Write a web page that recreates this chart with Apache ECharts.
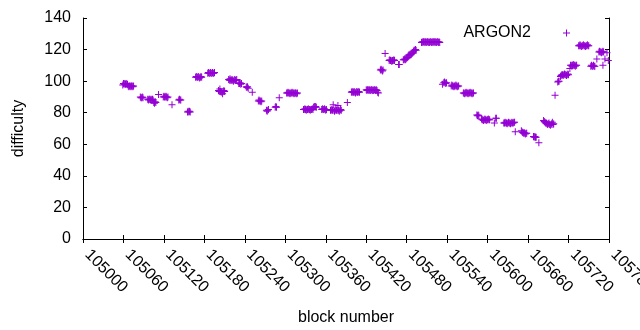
<!DOCTYPE html>
<html>
<head>
<meta charset="utf-8">
<script src="https://cdn.jsdelivr.net/npm/echarts@6/dist/echarts.min.js"></script>
<style>
  html, body { margin: 0; padding: 0; background: #fff; }
  #main { width: 640px; height: 330px; }
</style>
</head>
<body>
<div id="main"></div>
<script type="text/javascript">
// block number offsets (from 105000) and difficulty
var baseBlock = 105000;
var blockOffset = [
  59,60,61,62,63,64,65,66,67,68,69,70,71,72,73,74,75,
  85,86,87,88,89,
  96,97,98,99,100,101,102,103,104,105,106,107,108,
  112,
  119,120,121,122,123,124,125,126,
  132,
  142,143,144,145,
  155,156,157,158,159,
  167,168,169,170,171,172,173,174,175,176,
  185,186,187,188,189,190,191,192,193,194,195,
  201,202,203,204,205,206,207,208,209,210,
  216,217,218,219,220,221,222,223,224,225,226,227,228,
  231,232,233,234,235,
  242,243,244,245,
  251,
  260,261,262,263,264,265,
  272,273,274,275,
  285,286,287,
  291,
  302,303,304,305,306,307,308,309,310,311,312,313,314,315,316,317,318,
  327,328,329,330,331,332,333,334,335,336,337,338,339,340,341,
  342,343,344,345,346,
  354,355,356,357,358,359,360,361,
  367,368,369,370,371,372,373,374,375,376,377,378,379,380,381,382,383,
  392,
  398,399,400,401,402,403,404,405,406,407,408,409,410,
  420,421,422,423,424,425,426,427,428,429,430,431,432,433,434,435,436,437,438,
  441,442,443,444,445,
  448,
  454,455,456,457,458,459,460,461,462,
  468,469,
  475,476,477,478,479,480,481,482,483,484,485,486,487,488,489,490,491,492,493,494,
  502,503,504,505,506,507,508,509,510,511,512,513,514,515,516,517,518,519,520,521,522,523,524,525,526,527,528,529,
  533,535,536,537,538,539,
  546,547,548,549,550,551,552,553,554,555,556,557,
  564,565,566,567,568,569,570,571,572,573,574,575,576,577,578,579,
  584,585,586,587,
  591,592,593,594,595,596,597,598,599,600,601,602,603,
  610,612,613,
  624,625,626,627,628,629,630,631,632,633,634,635,636,637,638,639,640,
  641,
  650,651,652,653,654,655,656,657,658,
  668,669,670,671,672,
  676,
  683,684,685,686,687,688,689,690,691,692,693,694,695,696,697,698,
  700,
  704,705,706,
  708,709,710,711,712,713,714,715,716,717,718,719,720,
  722,723,724,725,726,727,728,729,730,731,732,
  735,736,737,738,739,740,741,742,743,744,745,746,747,748,749,750,
  753,754,755,756,757,758,759,
  762,765,766,767,768,769,770,771,772,
  771,774,777,779
];
var difficulty = [
  97.5,98.5,98,98.5,98,98.5,98,98,97,96.5,97,97,96.5,97,97,96.5,97,
  90,89.5,89.5,90,89.5,
  88.5,88,88.5,88.5,88,88.5,88,88.5,88,86.5,86,87,86.5,
  91.5,
  90,90.5,90,90,90.5,90,89.5,90,
  85,
  88,88.5,88,88,
  80.5,81,80.5,81,80.5,
  102.5,103,102.5,102.5,103,102.5,102,102.5,103,102.5,
  105,105.5,105,105,105.5,105,105,105.5,105,105,105.5,
  94,93.5,95,93.5,93,93.5,92,93.5,94,93.5,
  101,100.5,101.5,100.5,100.5,101,100.5,100,100.5,101,100.5,100.5,101,
  98.5,98.5,99,98,98.5,
  96.5,96,96.5,95.5,
  93,
  87.5,88,87.5,87.5,87,87.5,
  81.5,81,81.5,82,
  83.5,84,83.5,
  89.5,
  92.5,92.5,93,92.5,92.5,92,92.5,92.5,93,92.5,92.5,92,92.5,92.5,92.5,92,92.5,
  82,82,82.5,82,81.5,82,82,82.5,82,82,81.5,82,82,82.5,82,
  83.5,84,83.5,84,83.5,
  82,82.5,82,82,82.5,82,81.5,82,
  81.5,81.5,82,81.5,85,81.5,81,81.5,82,81.5,81.5,84.5,81.5,81,81.5,82,81.5,
  86.5,
  93,93.5,93,93,93.5,93,92.5,93,93.5,93,93,93.5,93,
  94.5,94,94.5,94.5,94,94.5,94,94.5,94.5,94,94.5,94,94.5,94.5,94,94.5,94,93,92.5,
  107,107.5,107,106.5,107,
  117.5,
  113,113.5,113,113,112.5,113,113,113.5,113,
  110.5,110.5,
  113.5,113.5,114,113.5,114,114.5,115,116,116.5,116.5,117,116.5,117,117.5,118,119,119.5,119.5,120,119.5,
  124.5,125,124.5,125,125,124.5,125,124.5,125,125,124.5,125,124.5,125,125,124.5,125,124.5,125,125,124.5,125,124.5,125,125,124.5,125,124.5,
  98,99,99.5,99,98.5,99,
  97,97.5,97,97,96.5,97,97,97.5,97,96.5,97,97,
  92.5,92.5,92,92.5,93,92.5,92.5,92,92.5,92.5,93,92.5,92.5,92,92.5,92.5,
  78.5,78,78.5,78,
  76,75.5,75.5,75,75.5,76,75.5,75,75.5,75.5,76,75.5,75.5,
  73.5,76.5,76.5,
  73.5,73.5,74,73.5,73.5,73,73.5,74,73.5,73.5,73,73.5,74,73.5,73.5,74,74,
  68,
  68.5,68,67.5,67,67.5,67,66.5,67,67,
  65,64.5,65,64.5,64.5,
  61,
  75,74.5,74,73.5,73.5,73,72.5,73,73.5,72.5,72,72.5,73,74,72.5,73,
  91,
  99.5,100,100,
  103,103.5,104,104,103.5,104,104.5,104,104,103.5,104,104.5,104,
  108,110,110,109.5,110,110.5,110,110,109.5,110,110,
  122.5,122.5,123,122.5,122,122.5,122.5,123,122.5,122.5,122,122.5,122.5,123,122.5,122.5,
  109.5,110,109.5,109.5,110,109.5,109.5,
  114,118.5,119,118.5,118.5,118,118.5,119,118.5,
  110,114,118,113
];
var xTicks = { min: 105000, max: 105780, step: 60 };
var yTicks = { min: 0, max: 140, step: 20 };

var plusIcon = 'path://M3,0h1v7h-1zM0,3h7v1h-7z';
// legend sample: same plus, with empty room on its left (gnuplot key spacing)
var legendIcon = 'path://M0,0M30,0h1v7h-1zM27,3h7v1h-7z';
var font = 'Liberation Sans, Arial, sans-serif';
var purple = '#9400d3';

var points = blockOffset.map(function (b, i) { return [baseBlock + b, difficulty[i]]; });

var myChart = echarts.init(document.getElementById('main'));

var axisLineStyle = { show: true, lineStyle: { color: '#000', width: 1 } };
var tickStyle = { show: true, inside: true, length: 4, lineStyle: { color: '#000', width: 1 } };

var option = {
    animation: false,
    backgroundColor: '#fff',
    grid: { left: 83, right: 31, top: 18, bottom: 91, containLabel: false, outerBoundsMode: 'none' },
    legend: {
        right: 65,
        top: 20,
        align: 'right',
        itemWidth: 34,
        itemHeight: 7,
        itemStyle: { color: purple, opacity: 1 },
        data: [{ name: 'ARGON2', icon: legendIcon }],
        textStyle: { fontFamily: font, fontSize: 16, color: '#000' }
    },
    xAxis: [{
        type: 'value',
        min: xTicks.min,
        max: xTicks.max,
        interval: xTicks.step,
        name: 'block number',
        nameLocation: 'middle',
        nameGap: 71,
        nameTextStyle: { fontFamily: font, fontSize: 16, color: '#000' },
        axisLine: axisLineStyle,
        axisTick: tickStyle,
        splitLine: { show: false },
        axisLabel: {
            rotate: -45,
            margin: 9,
            padding: [0, 0, 0, 6],
            fontFamily: font,
            fontSize: 16,
            color: '#000',
            showMaxLabel: true,
            formatter: function (v) { return String(v); }
        }
    }, {
        type: 'value',
        position: 'top',
        min: xTicks.min,
        max: xTicks.max,
        interval: xTicks.step,
        axisLine: axisLineStyle,
        axisTick: tickStyle,
        axisLabel: { show: false },
        splitLine: { show: false }
    }],
    yAxis: [{
        type: 'value',
        min: yTicks.min,
        max: yTicks.max,
        interval: yTicks.step,
        name: 'difficulty',
        nameLocation: 'middle',
        nameRotate: 90,
        nameGap: 56,
        nameTextStyle: { fontFamily: font, fontSize: 16, color: '#000' },
        axisLine: axisLineStyle,
        axisTick: tickStyle,
        splitLine: { show: false },
        axisLabel: { margin: 12, fontFamily: font, fontSize: 16, color: '#000' }
    }, {
        type: 'value',
        position: 'right',
        min: yTicks.min,
        max: yTicks.max,
        interval: yTicks.step,
        axisLine: axisLineStyle,
        axisTick: tickStyle,
        axisLabel: { show: false },
        splitLine: { show: false }
    }],
    series: [{
        name: 'ARGON2',
        type: 'scatter',
        xAxisIndex: 0,
        yAxisIndex: 0,
        symbol: plusIcon,
        symbolSize: 7,
        itemStyle: { color: purple, opacity: 1 },
        data: points
    }]
};

myChart.setOption(option);
</script>
</body>
</html>
